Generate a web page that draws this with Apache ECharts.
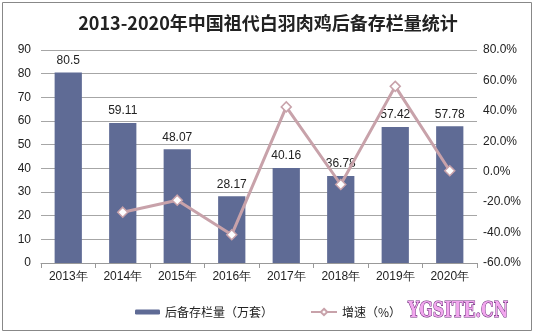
<!DOCTYPE html>
<html><head><meta charset="utf-8">
<script src="https://cdn.jsdelivr.net/npm/echarts@6/dist/echarts.min.js"></script>
<style>html,body{margin:0;padding:0;background:#fff;}#c{width:536px;height:335px;}</style>
</head><body><div id="c"></div>
<script>
const categories = ['2013年','2014年','2015年','2016年','2017年','2018年','2019年','2020年'];
const stockValues = [80.5, 59.11, 48.07, 28.17, 40.16, 36.78, 57.42, 57.78];
const growthValues = [null, -26.6, -18.7, -41.4, 42.6, -8.4, 56.1, 0.6];
const titleText = '2013-2020年中国祖代白羽肉鸡后备存栏量统计';
const barName = '后备存栏量（万套）';
const lineName = '增速（%）';

const chart = echarts.init(document.getElementById('c'), null, {renderer:'canvas'});
const axisFont = {color:'#222', fontSize:12, fontFamily:'Liberation Sans, Arial, sans-serif'};
chart.setOption({
  animation:false,
  backgroundColor:'#fff',
  title:{text:titleText, left:'center', top:9,
    textStyle:{fontSize:18, fontWeight:'bold', color:'#222', fontFamily:'Noto Sans CJK SC'}},
  grid:{left:41, right:59, top:50, bottom:72},
  legend:[
    {data:[barName], left:135, top:306, padding:0, itemWidth:25, itemHeight:5,
      textStyle:{fontSize:12, color:'#222', fontFamily:'Noto Sans CJK SC'}},
    {data:[lineName], left:310, top:306, padding:0, itemWidth:26, itemHeight:8,
      textStyle:{fontSize:12, color:'#222', fontFamily:'Noto Sans CJK SC'}}
  ],
  xAxis:{type:'category', data:categories,
    axisLine:{lineStyle:{color:'#999'}},
    axisTick:{show:true, alignWithLabel:false, length:5, lineStyle:{color:'#999'}},
    axisLabel:Object.assign({margin:8}, axisFont)},
  yAxis:[
    {type:'value', min:0, max:90, interval:10,
      axisLine:{show:false}, axisTick:{show:false},
      splitLine:{lineStyle:{color:'#a6a6a6'}},
      axisLabel:Object.assign({margin:10}, axisFont)},
    {type:'value', min:-60, max:80, interval:20, alignTicks:false,
      axisLine:{show:false}, axisTick:{show:false}, splitLine:{show:false},
      axisLabel:Object.assign({margin:6, formatter:v=>v.toFixed(1)+'%'}, axisFont)}
  ],
  series:[
    {name:barName, type:'bar', data:stockValues, barWidth:'50%',
      itemStyle:{color:'#5f6b95'},
      label:{show:true, position:'top', distance:6, color:'#222', fontSize:12, fontFamily:'Liberation Sans, Arial, sans-serif'}},
    {name:lineName, type:'line', yAxisIndex:1, data:growthValues,
      symbol:'diamond', symbolSize:10, connectNulls:false,
      lineStyle:{color:'#c8a2aa', width:3},
      itemStyle:{color:'#fff', borderColor:'#c8a2aa', borderWidth:1.5}}
  ],
  graphic:[
    {type:'rect', shape:{x:2.5, y:2.5, width:529, height:328}, style:{fill:'none', stroke:'#888', lineWidth:1}, silent:true},
    {type:'text', x:408, y:300, scaleX:0.72, style:{text:'YGSITE.CN', fontSize:22, fontWeight:'bold', fontFamily:'DejaVu Serif', fill:'#f2a6ee', stroke:'#6a2f7a', lineWidth:1.2}}
  ]
});
</script></body></html>
